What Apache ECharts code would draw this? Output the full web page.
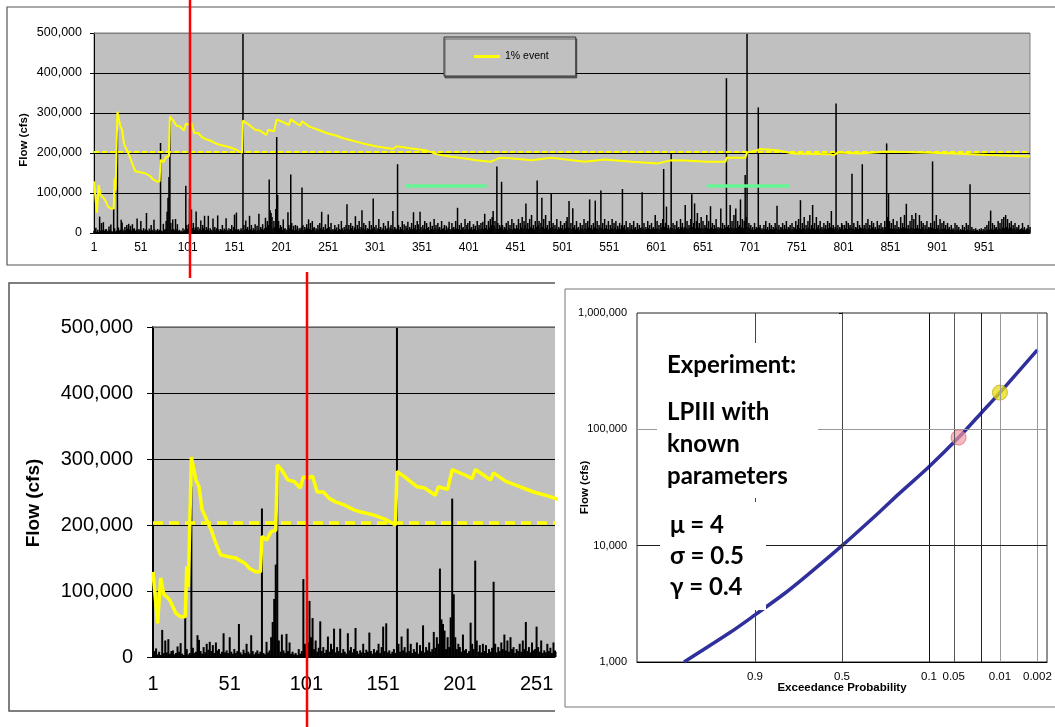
<!DOCTYPE html>
<html>
<head>
<meta charset="utf-8">
<script src="https://cdn.jsdelivr.net/npm/echarts@6/dist/echarts.min.js"></script>
<style>
  html, body { margin: 0; padding: 0; background: #fff; }
  #main { width: 1055px; height: 727px; }
</style>
</head>
<body>
<div id="main"></div>
<script>
// Record numbers of the simulated annual-peak series (category axis labels)
const records = Array.from({ length: 1000 }, (_, i) => String(i + 1));

// Simulated annual peak flow for each record, in thousands of cfs
const peakFlowK = [
  5,9,13,4,8,3,41,6,25,7,27,5,9,10,4,6,16,8,21,5,3,60,12,4,6,258,14,6,8,33,26,9,5,15,7,20,11,23,9,18,6,22,10,12,5,8,36,7,10,6,
  30,8,5,12,6,9,50,7,4,11,6,20,8,5,33,9,4,7,10,5,8,225,6,4,23,7,10,30,53,88,140,280,25,8,34,10,6,35,9,22,5,8,4,6,3,12,5,9,118,20,
  10,22,85,30,59,12,25,8,14,54,9,15,6,11,31,8,20,12,43,7,15,9,43,6,12,8,5,36,10,15,7,12,44,9,5,10,7,20,6,11,8,37,9,5,12,7,10,20,6,15,
  46,9,51,7,10,5,8,12,6,560,20,8,31,10,15,7,43,9,20,6,12,8,22,5,18,9,48,7,15,10,22,8,12,38,14,30,20,134,57,50,40,12,30,15,60,240,95,30,12,20,
  15,8,34,10,12,6,9,52,20,12,146,25,8,18,7,20,9,18,6,12,8,14,114,20,7,15,9,22,12,34,10,25,8,30,12,15,6,12,9,20,8,25,12,53,9,15,7,22,10,12,
  46,15,8,25,6,10,7,20,9,14,6,22,10,8,30,12,7,15,9,20,72,10,20,8,25,12,18,7,14,42,9,20,11,30,8,15,57,12,25,9,20,7,12,10,30,8,20,11,86,15,
  9,20,7,12,35,10,15,8,11,25,7,18,9,12,30,8,14,20,10,55,8,15,11,9,172,20,8,15,10,30,7,22,9,18,12,28,8,15,10,25,9,52,12,20,8,30,22,10,53,15,
  8,20,11,30,9,25,12,15,7,28,10,18,8,35,12,20,9,25,11,15,8,30,10,12,20,7,18,9,14,28,10,8,25,12,15,9,30,11,63,10,20,8,25,12,15,9,35,10,20,25,
  9,30,11,15,8,22,10,18,7,30,12,20,9,25,11,28,10,48,12,20,9,30,14,35,20,40,55,18,30,12,166,25,10,20,14,128,20,9,15,11,25,8,30,12,20,10,35,9,25,12,
  10,20,12,35,9,25,14,40,11,30,20,74,12,25,10,35,14,45,12,20,9,30,15,131,20,30,12,25,88,15,35,11,45,14,20,9,30,12,99,15,25,10,20,12,35,9,15,11,30,12,
  20,9,25,12,30,40,14,80,12,25,10,62,14,20,9,30,12,15,8,25,11,20,9,35,12,25,10,30,14,84,12,20,9,25,14,81,12,30,10,20,14,106,12,25,9,35,12,20,10,30,
  9,20,12,35,10,25,14,30,9,18,11,25,10,20,110,14,20,9,30,12,15,8,25,11,20,9,30,12,15,8,25,10,20,12,14,102,11,25,9,15,10,30,12,20,9,25,11,15,10,45,
  12,30,10,20,9,25,14,35,160,15,25,66,12,20,9,14,205,12,25,10,20,9,30,12,15,10,35,14,25,11,15,70,12,30,10,20,14,35,97,15,25,74,12,30,50,14,25,11,40,12,
  30,11,20,14,45,12,30,10,67,14,25,10,20,12,35,11,15,9,14,61,12,25,10,20,14,387,15,20,12,70,14,30,11,45,14,61,12,30,15,20,84,14,35,12,30,145,40,560,15,25,
  12,20,9,15,8,25,10,15,12,314,14,20,9,12,8,20,10,30,9,15,8,25,10,20,9,15,11,25,14,68,10,20,8,15,12,25,9,20,11,30,9,15,12,20,8,25,10,15,12,30,
  10,20,35,12,82,10,25,12,40,9,20,11,30,14,45,10,20,70,12,25,9,40,14,20,10,30,12,15,9,25,11,20,10,30,12,25,14,55,12,20,10,15,324,12,20,9,15,11,25,20,
  9,20,12,30,10,25,14,20,12,148,11,25,9,15,12,30,10,20,14,12,172,11,20,12,25,9,35,12,20,10,30,14,25,11,15,9,30,12,20,10,25,12,15,9,30,14,224,40,99,30,
  12,25,10,35,12,20,9,30,11,15,10,40,12,25,14,45,12,73,11,20,10,30,14,45,12,35,10,50,12,20,11,45,10,30,14,25,9,20,12,30,10,15,12,25,14,179,12,30,10,45,
  12,20,9,35,11,25,10,30,12,20,9,25,11,15,8,20,9,12,7,25,8,20,9,15,6,10,7,20,8,15,6,25,9,20,7,122,8,15,6,10,5,12,7,8,4,10,6,12,5,10,
  7,15,6,20,9,30,8,56,10,25,8,20,11,15,9,30,12,25,10,35,14,40,12,45,15,35,11,25,14,30,10,20,12,25,9,15,11,20,8,10,12,25,9,15,7,10,12,20,8,15
];

// Running estimate of the 1% event: record number and flow (thousands of cfs)
const eventRecord = [1,4,6,8,10,12,16,19,22,23,24,26,29,31,33,35,39,42,45,50,55,57,61,64,68,71,72,75,78,81,82,85,89,93,97,98,99,102,105,108,112,116,120,126,132,136,145,153,159,160,165,173,178,185,187,193,196,205,209,211,218,221,223,231,240,249,260,267,288,303,320,324,338,356,367,381,395,409,424,434,445,468,489,525,546,575,603,617,632,655,675,676,696,698,708,712,730,747,787,790,795,819,849,884,920,956,1000];
const eventFlowK   = [129,51,120,95,91,86,66,61,61,137,106,303,268,258,223,213,192,172,155,152,150,147,142,134,129,129,183,177,190,192,291,283,268,266,256,256,273,271,274,250,250,240,235,230,223,220,215,208,200,281,273,258,256,245,258,254,284,275,270,284,273,268,279,266,258,250,243,237,224,216,210,217,212,206,197,191,187,182,178,188,187,182,188,178,184,178,174,182,181,178,178,188,188,201,206,210,207,199,197,194,201,199,204,201,199,195,191];

// True 1% event flow (cfs)
const trueEventFlow = 203000;

// Record spans highlighted in the long series, and the flow level they sit at
const highlightSpans = [[334, 420], [655, 743]];
const highlightFlow = 118000;

// LPIII frequency curve: exceedance probability and flow (cfs)
const curveProb = [0.99, 0.95, 0.9, 0.8, 0.7, 0.5, 0.29, 0.2, 0.1, 0.043, 0.02, 0.01, 0.002];
const curveFlow = [1000, 1800, 2540, 3900, 5500, 10000, 19500, 28000, 47700, 85000, 139000, 207000, 482000];

// Two highlighted points on the frequency curve
const markedProb = [0.043, 0.01];
const markedFlow = [85000, 207000];

// Probability-paper ticks
const probTicks  = [0.9, 0.5, 0.1, 0.05, 0.02, 0.01, 0.002];
const probLabels = ['0.9', '0.5', '0.1', '0.05', '', '0.01', '0.002'];
const probGridColors = ['#444', '#444', '#111', '#555', '#222', '#999', '#999'];

// Standard normal deviate for an exceedance probability (probability-paper x position)
function upperZ(p) {
  const t = Math.sqrt(-2 * Math.log(p));
  return t - (2.515517 + 0.802853 * t + 0.010328 * t * t) /
             (1 + 1.432788 * t + 0.189269 * t * t + 0.001308 * t * t * t);
}
function probToX(p) {
  if (p === 0.5) return 0;
  return p < 0.5 ? upperZ(p) : -upperZ(1 - p);
}

function withCommas(v) {
  return String(Math.round(v)).replace(/\B(?=(\d{3})+(?!\d))/g, ',');
}

const FONT = 'Liberation Sans, Arial, sans-serif';
const NOTE_FONT = 'bold 24px Lato, "Open Sans", sans-serif';
const peakFlow = peakFlowK.map(v => v * 1000);
const eventLine = eventRecord.map((r, i) => [r - 1, eventFlowK[i] * 1000]);
const curveData = curveProb.map((p, i) => [probToX(p), curveFlow[i]]);

const chart = echarts.init(document.getElementById('main'), null, { renderer: 'canvas' });

function note(text, x, y) {
  return { type: 'text', z: 60, silent: true, style: { text, x, y, verticalAlign: 'middle', font: NOTE_FONT, fill: '#000' } };
}

const option = {
  backgroundColor: '#fff',
  animation: false,
  textStyle: { fontFamily: FONT },
  legend: {
    data: [{ name: '1% event', icon: 'rect' }],
    left: 444, top: 37,
    padding: [13, 27, 13, 30],
    itemWidth: 26, itemHeight: 3, itemGap: 5,
    backgroundColor: '#c0c0c0',
    borderColor: '#333', borderWidth: 1,
    shadowColor: 'rgba(0,0,0,0.45)', shadowOffsetX: 1, shadowOffsetY: 2, shadowBlur: 0,
    textStyle: { fontSize: 10.5, color: '#000', fontFamily: FONT, lineHeight: 13 },
    selectedMode: false
  },
  grid: [
    { left: 94, top: 33, width: 936, height: 200, show: true, backgroundColor: '#c0c0c0', borderColor: '#808080', borderWidth: 1 },
    { left: 153, top: 327, width: 402, height: 330, show: true, backgroundColor: '#c0c0c0', borderWidth: 0 },
    { left: 637, top: 313, width: 410, height: 349, show: true, backgroundColor: '#fff', borderColor: '#222', borderWidth: 1 }
  ],
  xAxis: [
    {
      type: 'category', gridIndex: 0, data: records, boundaryGap: false,
      axisLine: { lineStyle: { color: '#000', width: 1 } },
      axisTick: { show: false },
      axisLabel: { interval: 49, fontSize: 12, color: '#000', margin: 9, fontFamily: FONT },
      splitLine: { show: false }
    },
    {
      type: 'category', gridIndex: 1, data: records, boundaryGap: false, min: 0, max: 262,
      axisLine: { lineStyle: { color: '#000', width: 1.5 } },
      axisTick: { show: false },
      axisLabel: { interval: 49, fontSize: 20, color: '#000', margin: 17, fontFamily: FONT },
      splitLine: { show: false }
    },
    {
      type: 'value', gridIndex: 2, min: -3.02, max: 3.02,
      axisLine: { lineStyle: { color: '#000', width: 1 } },
      axisTick: { show: false },
      splitLine: { show: false },
      axisLabel: {
        customValues: probTicks.map(probToX),
        fontSize: 11.5, color: '#000', margin: 9, fontFamily: FONT,
        formatter: v => {
          const i = probTicks.findIndex(p => Math.abs(probToX(p) - v) < 1e-9);
          return i >= 0 ? probLabels[i] : '';
        }
      },
      name: 'Exceedance Probability', nameLocation: 'middle', nameGap: 20, nameMoveOverlap: false,
      nameTextStyle: { fontSize: 11.5, fontWeight: 'bold', color: '#000', fontFamily: FONT }
    }
  ],
  yAxis: [
    {
      type: 'value', gridIndex: 0, min: 0, max: 500000, interval: 100000,
      axisLine: { show: true, lineStyle: { color: '#000', width: 1 } },
      axisTick: { show: true, length: 4, lineStyle: { color: '#000' } },
      axisLabel: { formatter: withCommas, fontSize: 12.5, color: '#000', margin: 12, fontFamily: FONT },
      splitLine: { lineStyle: { color: '#000', width: 1 } },
      name: 'Flow (cfs)', nameLocation: 'middle', nameGap: 64, nameMoveOverlap: false,
      nameTextStyle: { fontSize: 11.5, fontWeight: 'bold', color: '#000', fontFamily: FONT, padding: [0, 14, 0, 0] }
    },
    {
      type: 'value', gridIndex: 1, min: 0, max: 500000, interval: 100000,
      axisLine: { show: true, lineStyle: { color: '#000', width: 2 } },
      axisTick: { show: true, length: 6, lineStyle: { color: '#000' } },
      axisLabel: { formatter: withCommas, fontSize: 20, color: '#000', margin: 20, fontFamily: FONT },
      splitLine: { lineStyle: { color: '#000', width: 1 } },
      name: 'Flow (cfs)', nameLocation: 'middle', nameGap: 110, nameMoveOverlap: false,
      nameTextStyle: { fontSize: 19, fontWeight: 'bold', color: '#000', fontFamily: FONT, padding: [0, 22, 0, 0] }
    },
    {
      type: 'log', logBase: 10, gridIndex: 2, min: 1000, max: 1000000,
      axisLine: { show: true, lineStyle: { color: '#000', width: 1 } },
      axisTick: { show: true, length: 3, lineStyle: { color: '#000' } },
      axisLabel: { formatter: withCommas, fontSize: 11, color: '#000', margin: 10, fontFamily: FONT },
      splitLine: { show: false },
      name: 'Flow (cfs)', nameLocation: 'middle', nameGap: 46, nameMoveOverlap: false,
      nameTextStyle: { fontSize: 11.5, fontWeight: 'bold', color: '#000', fontFamily: FONT }
    }
  ],
  series: [
    // long simulated record
    {
      name: 'Annual peak', type: 'bar', xAxisIndex: 0, yAxisIndex: 0,
      data: peakFlow, barWidth: 1.5, silent: true, large: false,
      itemStyle: { color: '#000' },
      markLine: {
        silent: true, symbol: 'none', label: { show: false },
        data: [
          [{ coord: [0, 500000] }, { coord: [999, 500000], lineStyle: { color: '#808080', width: 1, type: 'solid' } }],
          ...highlightSpans.map(s => [
            { coord: [s[0] - 1, highlightFlow] },
            { coord: [s[1] - 1, highlightFlow], lineStyle: { color: '#66f593', width: 3.5, type: 'solid' } }
          ])
        ]
      }
    },
    {
      name: '1% event', type: 'line', xAxisIndex: 0, yAxisIndex: 0,
      data: eventLine, symbol: 'none', silent: true,
      itemStyle: { color: '#ffff00' },
      lineStyle: { color: '#ffff00', width: 2 },
      markLine: {
        silent: true, symbol: 'none', label: { show: false },
        lineStyle: { color: '#ffff00', width: 2, type: [5, 3] },
        data: [{ yAxis: trueEventFlow }]
      }
    },
    // first 260 or so records, enlarged
    {
      name: 'Annual peak (detail)', type: 'bar', xAxisIndex: 1, yAxisIndex: 1,
      data: peakFlow, barWidth: 2, silent: true, large: false,
      itemStyle: { color: '#000' },
      markLine: {
        silent: true, symbol: 'none', label: { show: false },
        lineStyle: { color: '#808080', width: 1.5, type: 'solid' },
        data: [{ yAxis: 500000 }]
      }
    },
    {
      name: '1% event', type: 'line', xAxisIndex: 1, yAxisIndex: 1,
      data: eventLine, symbol: 'none', silent: true,
      itemStyle: { color: '#ffff00' },
      lineStyle: { color: '#ffff00', width: 3.5 },
      markLine: {
        silent: true, symbol: 'none', label: { show: false },
        lineStyle: { color: '#ffff00', width: 3.5, type: [10, 6] },
        data: [{ yAxis: trueEventFlow }]
      }
    },
    // probability-paper grid lines (carried by an invisible copy of the curve)
    {
      name: 'grid', type: 'line', xAxisIndex: 2, yAxisIndex: 2, z: 1,
      data: curveData, symbol: 'none', silent: true,
      lineStyle: { opacity: 0 },
      markLine: {
        silent: true, symbol: 'none', label: { show: false },
        data: [
          ...probTicks.map((p, i) => ({ xAxis: probToX(p), lineStyle: { color: probGridColors[i], width: 1, type: 'solid' } })),
          { yAxis: 10000, lineStyle: { color: '#222', width: 1, type: 'solid' } },
          { yAxis: 100000, lineStyle: { color: '#999', width: 1, type: 'solid' } }
        ]
      }
    },
    {
      name: 'LPIII', type: 'line', xAxisIndex: 2, yAxisIndex: 2, z: 3,
      data: curveData, symbol: 'none', smooth: 0.3, silent: true,
      lineStyle: { color: '#30309c', width: 3.5 }
    },
    {
      name: 'marked', type: 'scatter', xAxisIndex: 2, yAxisIndex: 2, z: 4,
      symbolSize: 15, silent: true,
      data: [
        { value: [probToX(markedProb[0]), markedFlow[0]], itemStyle: { color: 'rgba(244,150,160,0.85)', borderColor: '#e06575', borderWidth: 1 } },
        { value: [probToX(markedProb[1]), markedFlow[1]], itemStyle: { color: 'rgba(230,222,20,0.95)', borderColor: '#c2ad10', borderWidth: 1 } }
      ]
    }
  ],
  graphic: [
    // panel frames
    { type: 'polyline', z: 90, silent: true, shape: { points: [[1056, 7], [7, 7], [7, 265], [1056, 265]] }, style: { stroke: '#555', lineWidth: 1.2, fill: null } },
    { type: 'polyline', z: 90, silent: true, shape: { points: [[555, 283], [9, 283], [9, 711], [555, 711]] }, style: { stroke: '#555', lineWidth: 1.5, fill: null } },
    { type: 'polyline', z: 90, silent: true, shape: { points: [[1056, 289], [565, 289], [565, 707], [1056, 707]] }, style: { stroke: '#777', lineWidth: 1, fill: null } },
    // experiment description boxes
    { type: 'rect', z: 50, silent: true, shape: { x: 657, y: 343, width: 161, height: 155 }, style: { fill: '#fff' } },
    { type: 'rect', z: 50, silent: true, shape: { x: 660, y: 502, width: 106, height: 108 }, style: { fill: '#fff' } },
    note('Experiment:', 667, 365),
    note('LPIII with', 667, 412),
    note('known', 667, 444),
    note('parameters', 667, 476),
    note('μ = 4', 670, 525),
    note('σ = 0.5', 670, 556),
    note('γ = 0.4', 670, 587),
    // current-record cursor lines
    { type: 'line', z: 95, silent: true, shape: { x1: 190, y1: 0, x2: 190, y2: 278 }, style: { stroke: '#ff0000', lineWidth: 2.5 } },
    { type: 'line', z: 95, silent: true, shape: { x1: 307, y1: 272, x2: 307, y2: 727 }, style: { stroke: '#ff0000', lineWidth: 2.5 } }
  ]
};

chart.setOption(option);
</script>
</body>
</html>
